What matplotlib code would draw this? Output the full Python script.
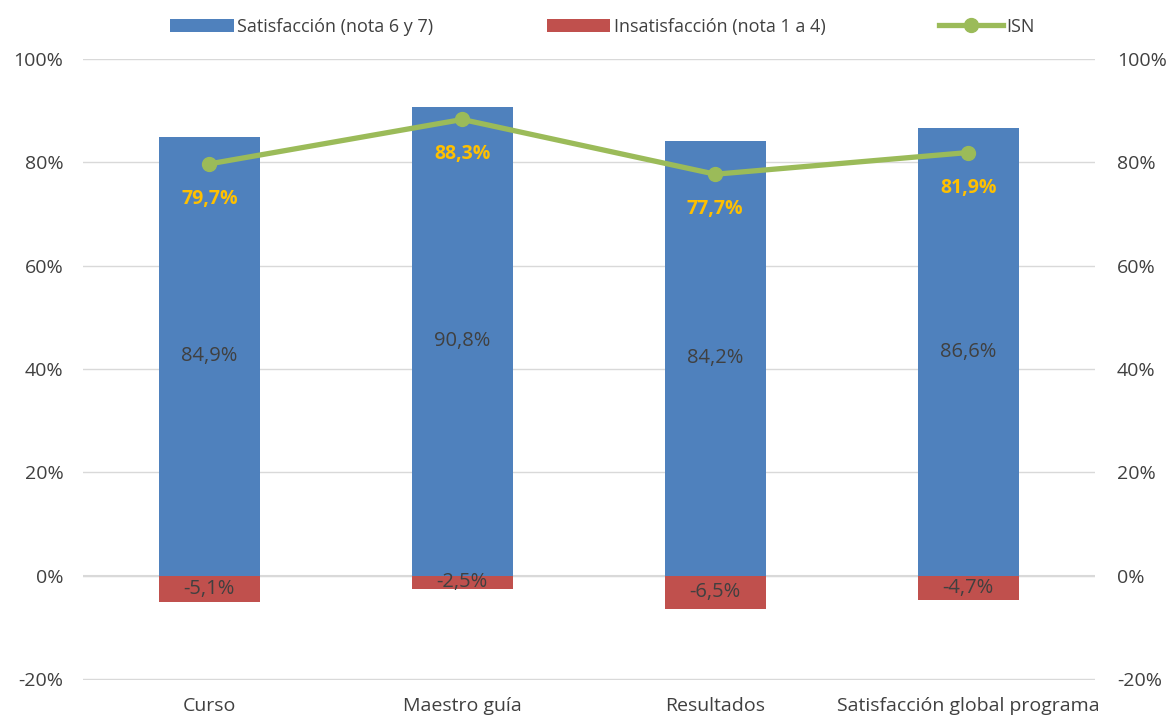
import matplotlib.pyplot as plt
import numpy as np
from matplotlib.ticker import FuncFormatter

categories = ["Curso", "Maestro guía", "Resultados", "Satisfacción global programa"]
satisfaccion = [84.9, 90.8, 84.2, 86.6]
insatisfaccion = [-5.1, -2.5, -6.5, -4.7]
isn = [79.7, 88.3, 77.7, 81.9]

plt.rcParams['font.family'] = ['Open Sans', 'DejaVu Sans']
txt = "#404040"
blue = "#4F81BD"
red = "#C0504D"
green = "#9BBB59"

def pct(v):
    return f"{v:.1f}%".replace(".", ",")

fig = plt.figure(figsize=(11.72, 7.17), dpi=100)
ax = fig.add_axes([0.0708, 0.0516, 0.8632, 0.8661])
x = np.arange(len(categories))

b1 = ax.bar(x, satisfaccion, width=0.4, color=blue, zorder=2, label="Satisfacción (nota 6 y 7)")
b2 = ax.bar(x, insatisfaccion, width=0.4, color=red, zorder=2, label="Insatisfacción (nota 1 a 4)")
ln, = ax.plot(x, isn, color=green, lw=3.8, marker="o", ms=10, zorder=3, label="ISN")

for i in range(len(x)):
    ax.text(x[i], satisfaccion[i] / 2, pct(satisfaccion[i]), ha="center", va="center",
            fontsize=14.5, color=txt, zorder=4)
    ax.text(x[i], insatisfaccion[i] / 2, pct(insatisfaccion[i]), ha="center", va="center",
            fontsize=14.5, color=txt, zorder=4)
    ax.annotate(pct(isn[i]), (x[i], isn[i]), xytext=(0, -35), textcoords="offset pixels",
                ha="center", va="center", fontsize=14, fontweight="bold", color="#FFC000", zorder=4)

ax.set_xlim(-0.5, 3.5)
ax.set_ylim(-20.2, 100)
ax.set_yticks(range(-20, 101, 20))
fmt = FuncFormatter(lambda v, p: f"{v:.0f}%")
ax.yaxis.set_major_formatter(fmt)
ax.set_xticks(x)
ax.set_xticklabels(categories)
ax.grid(axis="y", color="#D9D9D9", lw=1, zorder=0)
ax.axhline(0, color="#D9D9D9", lw=1.5, zorder=1)
for s in ax.spines.values():
    s.set_visible(False)
ax.tick_params(length=0, labelsize=14, colors=txt, pad=14)
ax.tick_params(axis="x", pad=12)

ax2 = ax.twinx()
ax2.set_ylim(-20.2, 100)
ax2.set_yticks(range(-20, 101, 20))
ax2.yaxis.set_major_formatter(fmt)
for s in ax2.spines.values():
    s.set_visible(False)
ax2.tick_params(length=0, labelsize=14, colors=txt, pad=16)

fig.legend(handles=[b1, b2, ln], loc="upper center", bbox_to_anchor=(0.514, 0.998), ncol=3,
           frameon=False, fontsize=13, columnspacing=6.3, handlelength=3.5, handletextpad=0.2,
           labelcolor=txt)

fig.savefig("out.png", dpi=100)
